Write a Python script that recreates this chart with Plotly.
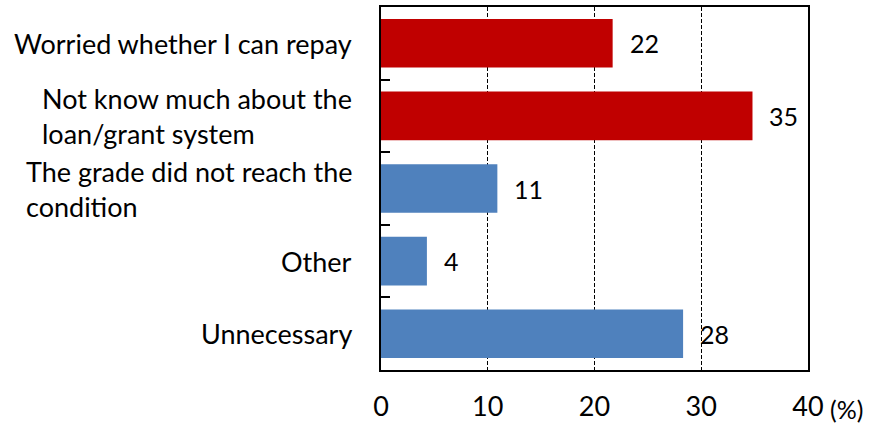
import plotly.graph_objects as go

categories = [
    "Worried whether I can repay",
    "Not know much about the<br>loan/grant system",
    "The grade did not reach the<br>condition",
    "Other",
    "Unnecessary",
]
values = [21.7, 34.8, 10.9, 4.3, 28.3]
value_labels = ["22", "35", "11", "4", "28"]
bar_colors = ["#C00000", "#C00000", "#4F81BD", "#4F81BD", "#4F81BD"]
x_ticks = [0, 10, 20, 30, 40]
x_unit = "(%)"

FONT = "Lato, Open Sans, sans-serif"

fig = go.Figure()
fig.add_trace(go.Bar(
    y=categories, x=values, orientation="h",
    marker=dict(color=bar_colors, line=dict(width=0)),
    hoverinfo="skip",
))

annotations = []
for cat, v, lab in zip(categories, values, value_labels):
    annotations.append(dict(
        x=v, y=cat, xref="x", yref="y", text=lab, showarrow=False,
        xanchor="left", xshift=15, font=dict(family=FONT, size=25, color="black"),
    ))
    annotations.append(dict(
        x=0, y=cat, xref="paper", yref="y", text=cat, showarrow=False,
        xanchor="right", align="left", xshift=-27,
        font=dict(family=FONT, size=27, color="black"),
    ))
annotations.append(dict(
    x=x_ticks[-1], y=0, xref="x", yref="paper", text=x_unit, showarrow=False,
    xanchor="left", yanchor="middle", xshift=21, yshift=-39, borderpad=0,
    font=dict(family=FONT, size=25, color="black"),
))

fig.update_layout(
    width=870, height=424,
    margin=dict(l=381, r=62, t=7, b=54),
    paper_bgcolor="white", plot_bgcolor="white",
    showlegend=False, bargap=0.33,
    annotations=annotations,
    font=dict(family=FONT, color="black"),
)
fig.update_xaxes(
    range=[0, 40], tickvals=x_ticks, ticktext=[str(t) for t in x_ticks],
    showgrid=True, gridcolor="black", griddash="4px,2px", gridwidth=1.3,
    showline=True, linecolor="black", linewidth=2, mirror=True,
    ticks="", zeroline=False, ticklabelstandoff=12, automargin=False,
    tickfont=dict(family=FONT, size=27, color="black"),
)
fig.update_yaxes(
    type="category", categoryorder="array", categoryarray=categories[::-1],
    showticklabels=False, tickson="boundaries", ticks="inside", ticklen=9,
    tickwidth=2, tickcolor="black", showgrid=False, automargin=False,
    showline=True, linecolor="black", linewidth=2, mirror=True,
)

fig.write_html("out.html")
